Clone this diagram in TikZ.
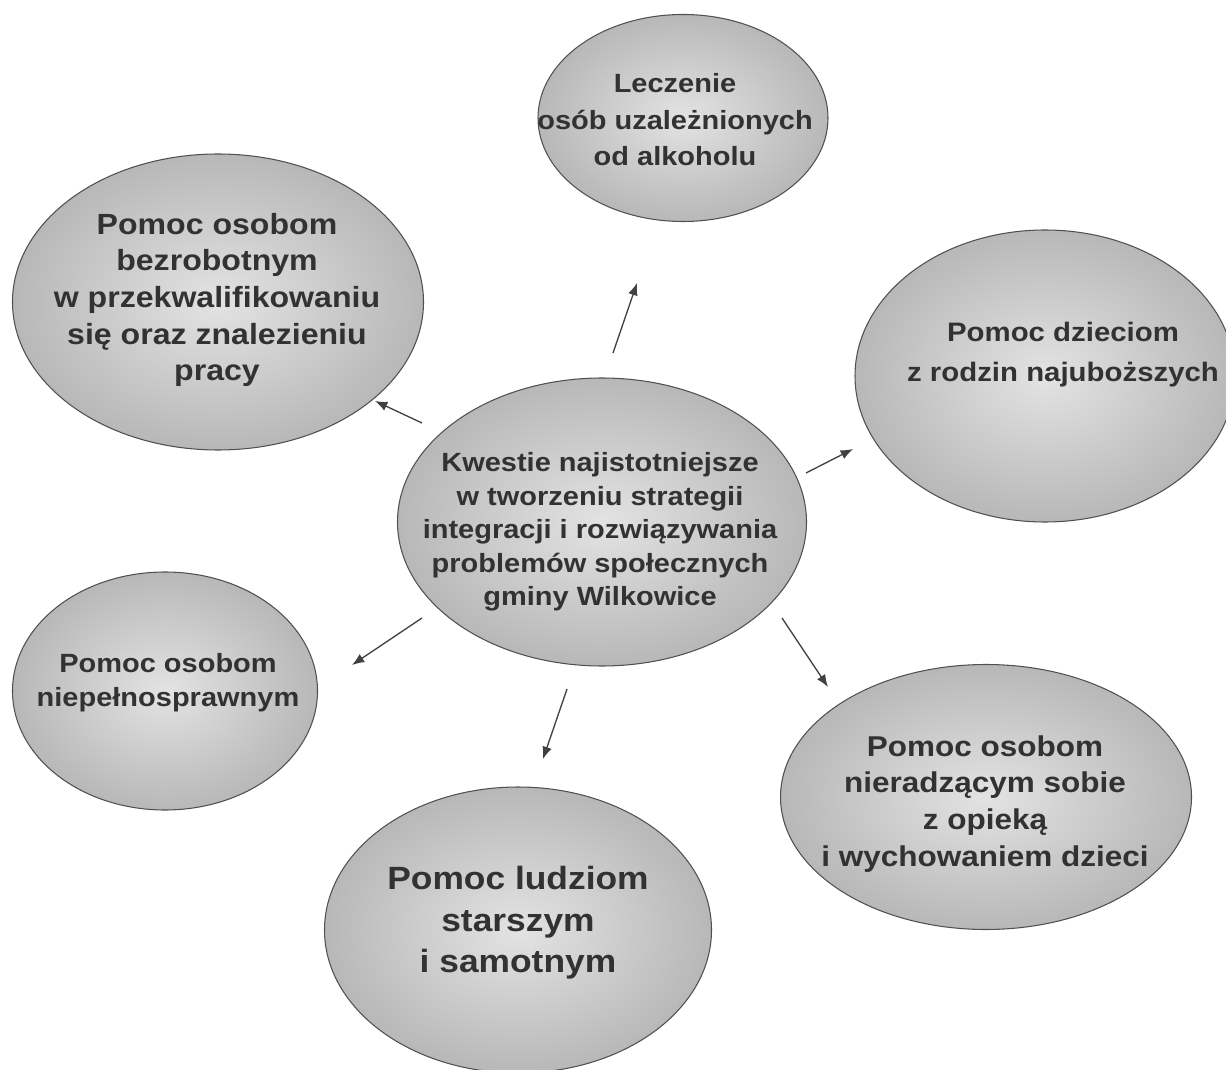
\documentclass[tikz,border=0pt]{standalone}
\usepackage{fontspec}
\setmainfont{Liberation Sans}[FakeStretch=1.1]
\usetikzlibrary{shapes.geometric, arrows.meta}
\tikzset{>={Latex[length=7pt, width=5.5pt]}}
\definecolor{bubbleedge}{RGB}{80, 80, 80}
\definecolor{bubbletext}{RGB}{50, 50, 50}
\definecolor{arrowgray}{RGB}{65, 65, 65}
\tikzset{
  bubble/.style 2 args = {ellipse, draw = bubbleedge, line width = 0.6pt, inner color = gray!22, outer color = gray!56, inner sep = 0pt, minimum width = #1*0.02cm, minimum height = #2*0.02cm},
  bubbletxt/.style 2 args = {align = center, text = bubbletext, inner sep = 0pt, font = \fontsize{#1}{#2}\selectfont\bfseries},
  arrowline/.style = {->, arrowgray, line width = 0.75pt}
}

\begin{document}
\begin{tikzpicture}[x = 0.02cm, y = -0.02cm]
\useasboundingbox (0, 0) rectangle (1226, 1070);
% bubbles
\node[bubble = {409}{288}] (kwestie) at (602, 522) {};
\node[bubble = {290}{207}] (leczenie) at (683, 118) {};
\node[bubble = {411}{296}] (bezrobotni) at (218, 302) {};
\node[bubble = {380}{292}] (dzieci) at (1045, 376) {};
\node[bubble = {305}{238}] (niepelnosprawni) at (165, 691) {};
\node[bubble = {387}{286}] (starsi) at (518, 930) {};
\node[bubble = {411}{265}] (opieka) at (986, 797) {};
% texts
\node[bubbletxt = {15}{19}] (kwestie-t) at (600, 532) {Kwestie najistotniejsze\\ w tworzeniu strategii\\ integracji i rozwiązywania\\ problemów społecznych\\ gminy Wilkowice};
\node[bubbletxt = {15}{20.8}] (leczenie-t) at (675, 120) {Leczenie\\ osób uzależnionych\\ od alkoholu};
\node[bubbletxt = {16.6}{20.8}] (bezrobotni-t) at (217, 300) {Pomoc osobom\\ bezrobotnym\\ w przekwalifikowaniu\\ się oraz znalezieniu\\ pracy};
\node[bubbletxt = {15.2}{22.8}] (dzieci-t) at (1063, 355) {Pomoc dzieciom\\ z rodzin najuboższych};
\node[bubbletxt = {15}{19.3}] (niepelnosprawni-t) at (168, 683) {Pomoc osobom\\ niepełnosprawnym};
\node[bubbletxt = {18.3}{23.6}] (starsi-t) at (518, 923) {Pomoc ludziom\\ starszym\\ i samotnym};
\node[bubbletxt = {16.3}{21}] (opieka-t) at (985, 804) {Pomoc osobom\\ nieradzącym sobie\\ z opieką\\ i wychowaniem dzieci};
% arrows
\coordinate (up-s) at (613, 353);
\coordinate (up-e) at (637, 283);
\coordinate (ul-s) at (422, 423);
\coordinate (ul-e) at (375, 401);
\coordinate (r-s) at (806, 473);
\coordinate (r-e) at (853, 449);
\coordinate (ll-s) at (422, 618);
\coordinate (ll-e) at (352, 665);
\coordinate (d-s) at (567, 689);
\coordinate (d-e) at (543, 759);
\coordinate (lr-s) at (782, 618);
\coordinate (lr-e) at (828, 687);
\draw[arrowline] (up-s) -- (up-e);
\draw[arrowline] (ul-s) -- (ul-e);
\draw[arrowline] (r-s) -- (r-e);
\draw[arrowline] (ll-s) -- (ll-e);
\draw[arrowline] (d-s) -- (d-e);
\draw[arrowline] (lr-s) -- (lr-e);
\end{tikzpicture}
\end{document}
